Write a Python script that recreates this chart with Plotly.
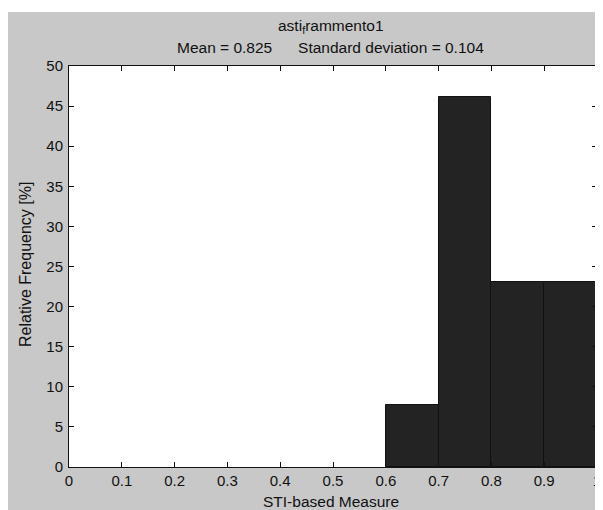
import plotly.graph_objects as go

bin_left = [0.6, 0.7, 0.8, 0.9]
rel_freq = [7.69, 46.15, 23.08, 23.08]
bin_width = 0.1
x_ticks = [0, 0.1, 0.2, 0.3, 0.4, 0.5, 0.6, 0.7, 0.8, 0.9, 1]
x_tick_labels = ["0", "0.1", "0.2", "0.3", "0.4", "0.5", "0.6", "0.7", "0.8", "0.9", "1"]
y_ticks = [0, 5, 10, 15, 20, 25, 30, 35, 40, 45, 50]

OFF = 8  # page body margin
W, H = 603 - OFF, 510 - OFF
L, R, T, B = 69 - OFF, 6, 66 - OFF, 43
pw, ph = W - L - R, H - T - B


def px(x):  # screen x -> paper x
    return (x - OFF - L) / pw


def py(y):  # screen y -> paper y
    return (H - B - (y - OFF)) / ph


FAM = "Liberation Sans, Arial, sans-serif"
font = dict(family=FAM, size=15, color="#111111")

fig = go.Figure()
fig.add_trace(go.Bar(
    x=bin_left, y=rel_freq, width=[bin_width] * len(bin_left), offset=0,
    marker=dict(color="#232323", line=dict(color="#111111", width=1)),
))

# white strip at top of the figure window
fig.add_shape(type="rect", xref="paper", yref="paper",
              x0=px(0), x1=px(603), y0=py(12), y1=py(0),
              fillcolor="white", line=dict(width=0), layer="above")


def ann(text, x, y, size=15, angle=0):
    fig.add_annotation(text=text, xref="paper", yref="paper", x=px(x), y=py(y),
                       xanchor="center", yanchor="middle", showarrow=False,
                       textangle=angle, font=dict(family=FAM, size=size, color="#111111"))


ann("asti<sub>f</sub>rammento1", 331, 26, 15.5)
ann("Mean = 0.825      Standard deviation = 0.104", 330, 48, 15.5)
ann("STI-based Measure", 331, 501, 15.5)
ann("Relative Frequency [%]", 25, 265, 16, -90)

fig.update_layout(
    width=W, height=H, margin=dict(l=L, r=R, t=T, b=B, autoexpand=False),
    paper_bgcolor="#c8c8c8", plot_bgcolor="white", showlegend=False,
    font=font, bargap=0,
    xaxis=dict(range=[0, 1], tickvals=x_ticks, ticktext=x_tick_labels,
               ticks="inside", ticklen=5, tickcolor="#111111",
               showline=True, linecolor="#111111", linewidth=1, mirror="ticks",
               showgrid=False, zeroline=False, tickfont=dict(size=15)),
    yaxis=dict(range=[0, 50], tickvals=y_ticks,
               ticks="inside", ticklen=5, tickcolor="#111111", ticklabelstandoff=2,
               showline=True, linecolor="#111111", linewidth=1, mirror="ticks",
               showgrid=False, zeroline=False, tickfont=dict(size=15)),
)

fig.write_html("out.html")
